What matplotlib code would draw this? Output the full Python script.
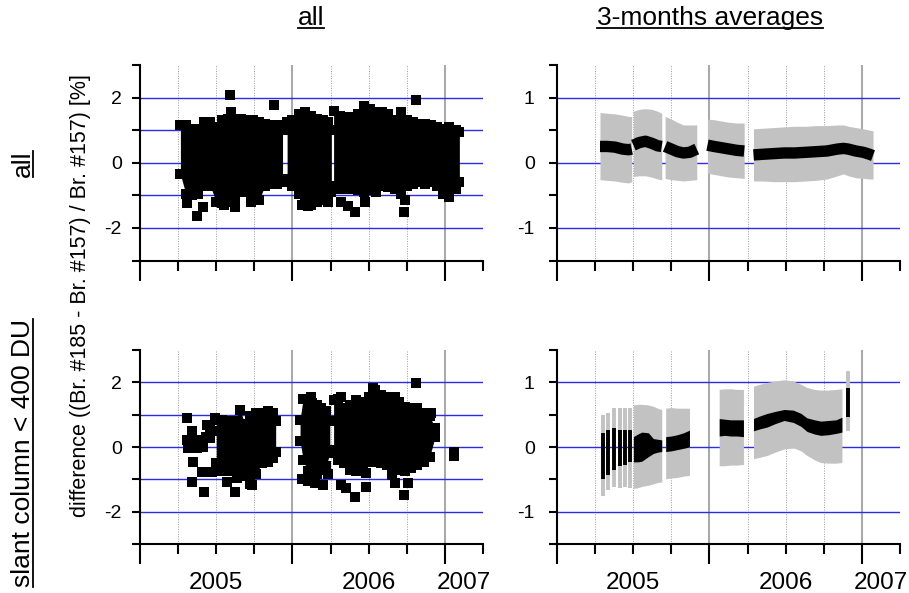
import matplotlib
matplotlib.use("Agg")
import matplotlib.pyplot as plt
from matplotlib.lines import Line2D
from matplotlib.ticker import FixedLocator, NullFormatter
from matplotlib.transforms import blended_transform_factory

plt.rcParams['font.family'] = ['Liberation Sans', 'DejaVu Sans']
plt.rcParams['axes.unicode_minus'] = False

# ---------------- labels / ticks ----------------
year_edges = [2005, 2006, 2007]
quarter_ticks = [2005.25, 2005.5, 2005.75, 2006.25, 2006.5, 2006.75, 2007.25]
year_labels = ['2005', '2006', '2007']
year_label_pos = [2005.5, 2006.5, 2007.125]
col_titles = ['all', '3-months averages']
row_titles = ['all', 'slant column < 400 DU']
y_title = 'difference ((Br. #185 - Br. #157) / Br. #157) [%]'
left_major = [-2, 0, 2]
left_minor = [-3, -1, 1, 3]
left_hlines = [-2, -1, 0, 1, 2]
right_major = [-1, 0, 1]
right_minor = [-1.5, -0.5, 0.5, 1.5]
right_hlines = [-1, 0, 1]

# ---------------- top-left: all individual differences ----------------
# dense clouds: outermost points (upper / lower) per date
tl_c1_dates = [2005.265, 2005.30, 2005.34, 2005.38, 2005.42, 2005.46, 2005.50, 2005.54, 2005.58,
               2005.62, 2005.66, 2005.70, 2005.74, 2005.78, 2005.82, 2005.86, 2005.90, 2005.935]
tl_c1_hi = [1.15, 1.15, 1.05, 1.05, 1.25, 1.25, 1.10, 1.30, 1.35, 1.35, 1.35, 1.30, 1.30, 1.25, 1.20, 1.15, 1.15, 1.00]
tl_c1_lo = [-0.35, -0.95, -1.00, -0.95, -0.70, -0.70, -1.20, -1.25, -1.20, -1.20, -0.90, -0.90, -1.15, -1.15, -0.70, -0.65, -0.65, -0.50]
tl_c2_dates = [2005.965, 2006.00, 2006.04, 2006.08, 2006.12, 2006.16, 2006.20, 2006.235, 2006.255]
tl_c2_hi = [1.25, 1.30, 1.50, 1.55, 1.45, 1.35, 1.30, 1.25, 1.00]
tl_c2_lo = [-0.60, -0.70, -0.95, -1.20, -1.30, -1.20, -1.15, -1.20, -0.90]
tl_c3_dates = [2006.27, 2006.31, 2006.35, 2006.39, 2006.43, 2006.47, 2006.51, 2006.55, 2006.59, 2006.63, 2006.67,
               2006.71, 2006.75, 2006.79, 2006.83, 2006.87, 2006.91, 2006.95, 2006.99, 2007.03, 2007.07, 2007.095]
tl_c3_hi = [1.60, 1.45, 1.40, 1.40, 1.50, 1.75, 1.65, 1.55, 1.55, 1.50, 1.30, 1.55, 1.30, 1.25, 1.20, 1.20, 1.15,
            1.10, 1.05, 1.10, 1.00, 0.95]
tl_c3_lo = [-0.70, -0.80, -0.80, -0.80, -0.85, -0.90, -0.85, -0.90, -0.70, -0.75, -0.80, -0.95, -0.70, -0.65,
            -0.60, -0.65, -0.60, -0.70, -0.95, -1.05, -0.80, -0.60]
tl_pts_dates = [2005.372, 2005.415, 2005.31, 2005.55, 2005.623, 2005.73, 2005.59, 2005.60, 2005.881,
                2006.32, 2006.366, 2006.41, 2006.475, 2006.73, 2006.74, 2006.81, 2006.06, 2006.10]
tl_pts_vals = [-1.63, -1.35, -1.25, -1.30, -1.35, -1.20, 2.07, 1.55, 1.78,
               -1.19, -1.34, -1.50, -1.19, -1.50, -1.13, 1.94, -1.30, -1.34]

# ---------------- bottom-left: slant column < 400 DU ----------------
bl_c1_dates = [2005.50, 2005.54, 2005.58, 2005.62, 2005.655, 2005.69, 2005.72, 2005.76, 2005.80, 2005.84, 2005.87, 2005.89]
bl_c1_hi = [0.85, 0.85, 0.80, 0.80, 1.15, 0.70, 0.95, 1.05, 1.05, 1.10, 1.05, 0.80]
bl_c1_lo = [-0.50, -0.75, -0.75, -0.70, -0.60, -0.90, -1.15, -0.85, -0.50, -0.45, -0.35, -0.15]
bl_c2_dates = [2006.05, 2006.07, 2006.10, 2006.13, 2006.16, 2006.19, 2006.22, 2006.245]
bl_c2_hi = [0.85, 1.50, 1.45, 1.35, 1.30, 1.20, 1.10, 0.80]
bl_c2_lo = [0.20, -0.40, -0.75, -0.85, -0.85, -0.70, -0.60, -0.20]
bl_c3_dates = [2006.27, 2006.30, 2006.34, 2006.38, 2006.42, 2006.46, 2006.50, 2006.54, 2006.58, 2006.62,
               2006.66, 2006.70, 2006.74, 2006.78, 2006.82, 2006.86, 2006.90, 2006.935]
bl_c3_hi = [1.45, 1.50, 1.20, 1.30, 1.45, 1.40, 1.55, 1.75, 1.60, 1.55, 1.50, 1.40, 1.25, 1.20, 1.20, 1.05, 0.95, 0.60]
bl_c3_lo = [-0.10, -0.40, -0.50, -0.70, -0.75, -0.55, -0.45, -0.45, -0.50, -0.55, -0.60, -0.70, -0.75,
            -0.65, -0.55, -0.45, -0.30, 0.30]
bl_pts_dates = [2005.306, 2005.343, 2005.306, 2005.317, 2005.34, 2005.372, 2005.372, 2005.404, 2005.415,
                2005.35, 2005.339, 2005.42, 2005.437, 2005.459, 2005.48, 2005.492, 2005.404, 2005.437,
                2005.47, 2005.43, 2005.46, 2005.568, 2005.623, 2005.634, 2005.732, 2005.39,
                2006.06, 2006.10, 2006.15, 2006.20, 2006.23, 2006.12,
                2006.32, 2006.35, 2006.41, 2006.48, 2006.48, 2006.65, 2006.67, 2006.73, 2006.76, 2006.81,
                2006.91, 2006.92, 2006.85, 2007.06, 2007.06, 2006.53, 2006.67, 2006.32, 2006.89]
bl_pts_vals = [0.89, 0.50, 0.22, -0.04, 0.22, 0.22, -0.04, 0.22, 0.00,
               -0.45, -1.07, -1.38, 0.68, 0.27, 0.50, 0.89, -0.76, -0.76,
               -0.76, 0.32, 0.63, -1.07, -1.38, -0.97, -1.18, 0.10,
               -1.00, -1.05, -1.12, -1.18, -0.85, 1.55,
               -1.18, -1.27, -1.54, -1.23, -0.81, -0.87, -1.10, -1.49, -1.12, 1.97,
               1.04, 0.47, -0.40, -0.15, -0.28, 1.82, 1.56, 1.56, 0.50]

# ---------------- top-right: 3-month averages, all ----------------
tr_s1_dates = [2005.282, 2005.33, 2005.38, 2005.43, 2005.47, 2005.49]
tr_s1_mean = [0.25, 0.25, 0.24, 0.21, 0.20, 0.21]
tr_s1_hi = [0.77, 0.76, 0.75, 0.73, 0.71, 0.71]
tr_s1_lo = [-0.26, -0.27, -0.28, -0.30, -0.31, -0.29]
tr_s2_dates = [2005.501, 2005.54, 2005.58, 2005.62, 2005.66, 2005.687]
tr_s2_mean = [0.27, 0.31, 0.33, 0.30, 0.26, 0.25]
tr_s2_hi = [0.79, 0.82, 0.83, 0.82, 0.79, 0.76]
tr_s2_lo = [-0.21, -0.20, -0.20, -0.22, -0.25, -0.26]
tr_s3_dates = [2005.709, 2005.75, 2005.79, 2005.83, 2005.87, 2005.917]
tr_s3_mean = [0.25, 0.21, 0.17, 0.15, 0.16, 0.21]
tr_s3_hi = [0.71, 0.67, 0.62, 0.58, 0.58, 0.58]
tr_s3_lo = [-0.24, -0.26, -0.27, -0.28, -0.27, -0.26]
tr_s4_dates = [2005.987, 2006.03, 2006.08, 2006.13, 2006.18, 2006.228]
tr_s4_mean = [0.27, 0.25, 0.23, 0.21, 0.19, 0.18]
tr_s4_hi = [0.67, 0.66, 0.64, 0.62, 0.61, 0.61]
tr_s4_lo = [-0.16, -0.18, -0.20, -0.22, -0.23, -0.24]
tr_s5_dates = [2006.289, 2006.35, 2006.42, 2006.49, 2006.56, 2006.63, 2006.70, 2006.77, 2006.84,
               2006.88, 2006.91, 2006.96, 2007.01, 2007.05, 2007.073]
tr_s5_mean = [0.12, 0.13, 0.14, 0.15, 0.15, 0.16, 0.17, 0.18, 0.21, 0.22, 0.21, 0.18, 0.16, 0.13, 0.11]
tr_s5_hi = [0.52, 0.53, 0.54, 0.55, 0.56, 0.56, 0.57, 0.57, 0.58, 0.58, 0.56, 0.54, 0.52, 0.50, 0.49]
tr_s5_lo = [-0.28, -0.28, -0.29, -0.29, -0.29, -0.28, -0.27, -0.25, -0.20, -0.17, -0.20, -0.23, -0.24, -0.25, -0.25]

# ---------------- bottom-right: 3-month averages, slant column < 400 DU ----------------
br_bar_dates = [2005.300, 2005.337, 2005.374, 2005.411, 2005.444, 2005.477, 2006.91]
br_bar_ghi = [0.50, 0.53, 0.61, 0.60, 0.61, 0.60, 1.17]
br_bar_glo = [-0.76, -0.67, -0.62, -0.64, -0.62, -0.64, 0.24]
br_bar_bhi = [0.22, 0.26, 0.29, 0.26, 0.26, 0.26, 0.91]
br_bar_blo = [-0.50, -0.43, -0.36, -0.30, -0.28, -0.23, 0.47]
br_s1_dates = [2005.501, 2005.53, 2005.556, 2005.599, 2005.632, 2005.66, 2005.687]
br_s1_ghi = [0.65, 0.66, 0.66, 0.65, 0.63, 0.60, 0.58]
br_s1_glo = [-0.64, -0.63, -0.61, -0.59, -0.57, -0.55, -0.54]
br_s1_bhi = [0.16, 0.20, 0.23, 0.22, 0.13, 0.12, 0.11]
br_s1_blo = [-0.23, -0.23, -0.22, -0.15, -0.10, -0.08, -0.07]
br_s2_dates = [2005.713, 2005.75, 2005.79, 2005.83, 2005.869]
br_s2_ghi = [0.60, 0.61, 0.60, 0.60, 0.60]
br_s2_glo = [-0.49, -0.48, -0.47, -0.45, -0.44]
br_s2_bhi = [0.16, 0.17, 0.19, 0.22, 0.26]
br_s2_blo = [-0.07, -0.06, -0.04, -0.02, 0.00]
br_s3_dates = [2006.064, 2006.10, 2006.14, 2006.18, 2006.223]
br_s3_ghi = [0.89, 0.90, 0.90, 0.89, 0.89]
br_s3_glo = [-0.29, -0.29, -0.28, -0.28, -0.27]
br_s3_bhi = [0.44, 0.43, 0.42, 0.42, 0.42]
br_s3_blo = [0.17, 0.18, 0.17, 0.17, 0.16]
br_s4_dates = [2006.289, 2006.33, 2006.38, 2006.43, 2006.49, 2006.55, 2006.60, 2006.64, 2006.69,
               2006.73, 2006.78, 2006.83, 2006.869]
br_s4_ghi = [0.94, 0.97, 1.00, 1.02, 1.04, 1.02, 0.97, 0.92, 0.89, 0.88, 0.88, 0.89, 0.90]
br_s4_glo = [-0.18, -0.16, -0.13, -0.08, -0.03, -0.01, -0.06, -0.13, -0.20, -0.24, -0.25, -0.25, -0.24]
br_s4_bhi = [0.44, 0.48, 0.52, 0.55, 0.58, 0.57, 0.52, 0.45, 0.42, 0.40, 0.41, 0.42, 0.46]
br_s4_blo = [0.25, 0.28, 0.31, 0.36, 0.41, 0.38, 0.32, 0.24, 0.20, 0.18, 0.19, 0.21, 0.23]

# ---------------- styling ----------------
W, H = 909, 593
BLUE = '#2b2be8'
GRAY = '#c2c2c2'
MS = 7.2
FS_XTICK = 17.5
FS_YTICK = 14
FS_TITLE = 19

fig = plt.figure(figsize=(W / 100, H / 100), dpi=100)


def make_ax(x0, y_top, x1, y_bot):
    return fig.add_axes([x0 / W, 1 - y_bot / H, (x1 - x0) / W, (y_bot - y_top) / H])


ax_tl = make_ax(140, 65, 483, 260.5)
ax_tr = make_ax(557, 65, 900, 260.5)
ax_bl = make_ax(140, 350, 483, 544)
ax_br = make_ax(557, 350, 900, 544)


def style(ax, ylim, ymaj, ymin, hl, xlabels, ypad):
    ax.set_xlim(2005, 2007.25)
    ax.set_ylim(*ylim)
    for s in ('top', 'right'):
        ax.spines[s].set_visible(False)
    for s in ('left', 'bottom'):
        ax.spines[s].set_linewidth(1.5)
        ax.spines[s].set_zorder(6)
    ax.xaxis.set_major_locator(FixedLocator(year_edges))
    ax.xaxis.set_minor_locator(FixedLocator(quarter_ticks))
    ax.xaxis.set_major_formatter(NullFormatter())
    ax.tick_params(axis='x', which='major', direction='out', length=14.5, width=1.5)
    ax.tick_params(axis='x', which='minor', direction='out', length=7.5, width=1.5)
    ax.yaxis.set_major_locator(FixedLocator(ymaj))
    ax.yaxis.set_minor_locator(FixedLocator(ymin))
    ax.tick_params(axis='y', which='both', direction='out', length=6, width=1.5, labelsize=FS_YTICK, pad=ypad)
    for v in year_edges[1:]:
        ax.axvline(v, color='#aaaaaa', lw=1.5, zorder=0)
    for v in quarter_ticks:
        ax.axvline(v, color='#9a9a9a', lw=0.7, ls=(0, (1, 1.5)), zorder=0)
    for v in hl:
        ax.axhline(v, color=BLUE, lw=1.0, zorder=1)
    if xlabels:
        tr = blended_transform_factory(ax.transData, ax.transAxes)
        for p, lab in zip(year_label_pos, year_labels):
            ax.text(p, -0.2, lab, transform=tr, ha='center', va='center', fontsize=FS_XTICK)


style(ax_tl, (-3, 3), left_major, left_minor, left_hlines, False, 7)
style(ax_bl, (-3, 3), left_major, left_minor, left_hlines, True, 7)
style(ax_tr, (-1.5, 1.5), right_major, right_minor, right_hlines, False, 10)
style(ax_br, (-1.5, 1.5), right_major, right_minor, right_hlines, True, 10)


def cloud(ax, d, hi, lo):
    ax.fill_between(d, lo, hi, color='k', lw=0, zorder=3)
    ax.plot(d, hi, 's', color='k', ms=MS, mew=0, zorder=3)
    ax.plot(d, lo, 's', color='k', ms=MS, mew=0, zorder=3)


def points(ax, d, v):
    ax.plot(d, v, 's', color='k', ms=MS, mew=0, zorder=3)


cloud(ax_tl, tl_c1_dates, tl_c1_hi, tl_c1_lo)
cloud(ax_tl, tl_c2_dates, tl_c2_hi, tl_c2_lo)
cloud(ax_tl, tl_c3_dates, tl_c3_hi, tl_c3_lo)
points(ax_tl, tl_pts_dates, tl_pts_vals)

cloud(ax_bl, bl_c1_dates, bl_c1_hi, bl_c1_lo)
cloud(ax_bl, bl_c2_dates, bl_c2_hi, bl_c2_lo)
cloud(ax_bl, bl_c3_dates, bl_c3_hi, bl_c3_lo)
points(ax_bl, bl_pts_dates, bl_pts_vals)

for d, m, hi, lo in [(tr_s1_dates, tr_s1_mean, tr_s1_hi, tr_s1_lo),
                     (tr_s2_dates, tr_s2_mean, tr_s2_hi, tr_s2_lo),
                     (tr_s3_dates, tr_s3_mean, tr_s3_hi, tr_s3_lo),
                     (tr_s4_dates, tr_s4_mean, tr_s4_hi, tr_s4_lo),
                     (tr_s5_dates, tr_s5_mean, tr_s5_hi, tr_s5_lo)]:
    ax_tr.fill_between(d, lo, hi, color=GRAY, lw=0, zorder=3)
    ax_tr.plot(d, m, color='k', lw=8.2, solid_capstyle='butt', solid_joinstyle='round', zorder=4)

for d, ghi, glo, bhi, blo in [(br_s1_dates, br_s1_ghi, br_s1_glo, br_s1_bhi, br_s1_blo),
                              (br_s2_dates, br_s2_ghi, br_s2_glo, br_s2_bhi, br_s2_blo),
                              (br_s3_dates, br_s3_ghi, br_s3_glo, br_s3_bhi, br_s3_blo),
                              (br_s4_dates, br_s4_ghi, br_s4_glo, br_s4_bhi, br_s4_blo)]:
    ax_br.fill_between(d, glo, ghi, color=GRAY, lw=0, zorder=3)
    ax_br.fill_between(d, blo, bhi, color='k', lw=0, zorder=4)
ax_br.vlines(br_bar_dates, br_bar_glo, br_bar_ghi, color=GRAY, lw=2.8, zorder=3)
ax_br.vlines(br_bar_dates, br_bar_blo, br_bar_bhi, color='k', lw=2.8, zorder=4)

# ---------------- texts ----------------
t_c1 = fig.text(311 / W, 1 - 18 / H, col_titles[0], ha='center', va='center', fontsize=FS_TITLE)
t_c2 = fig.text(710 / W, 1 - 18 / H, col_titles[1], ha='center', va='center', fontsize=FS_TITLE)
t_r1 = fig.text(23 / W, 1 - 164 / H, row_titles[0], rotation=90, ha='center', va='center', fontsize=FS_TITLE)
t_r2 = fig.text(23 / W, 1 - 453 / H, row_titles[1], rotation=90, ha='center', va='center', fontsize=FS_TITLE)
fig.text(81 / W, 1 - 296 / H, y_title, rotation=90, ha='center', va='center', fontsize=15.5)

fig.canvas.draw()
rend = fig.canvas.get_renderer()
inv = fig.transFigure.inverted()
for t in (t_c1, t_c2):
    bb = t.get_window_extent(rend)
    (xa, ya), (xb, yb) = inv.transform([(bb.x0, bb.y0 + 2), (bb.x1, bb.y0 + 2)])
    fig.add_artist(Line2D([xa, xb], [ya, yb], transform=fig.transFigure, color='k', lw=1.3))
for t in (t_r1, t_r2):
    bb = t.get_window_extent(rend)
    (xa, ya), (xb, yb) = inv.transform([(bb.x1 - 2, bb.y0), (bb.x1 - 2, bb.y1)])
    fig.add_artist(Line2D([xa, xb], [ya, yb], transform=fig.transFigure, color='k', lw=1.3))

fig.savefig('out.png', dpi=100)
